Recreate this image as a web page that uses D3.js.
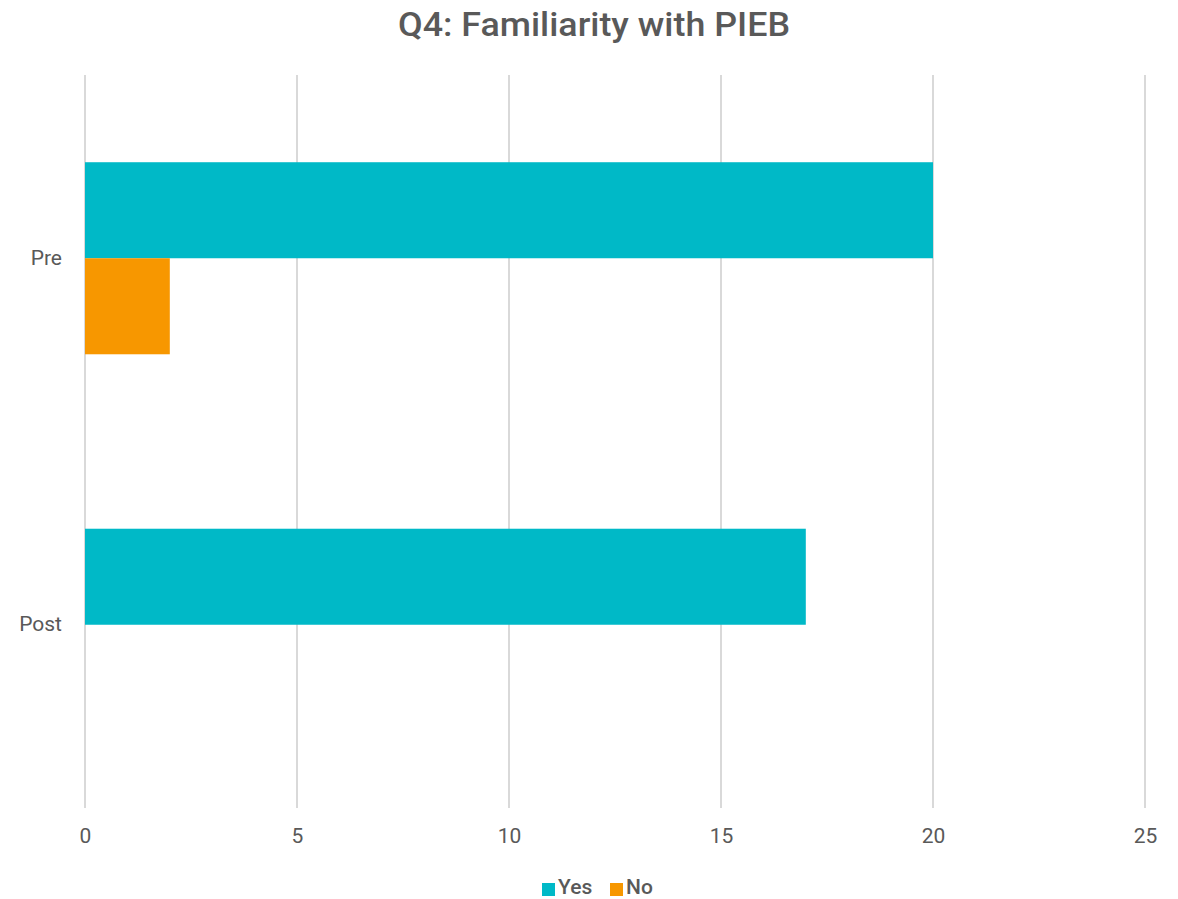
<!DOCTYPE html>
<html><head><meta charset="utf-8">
<script src="https://cdn.jsdelivr.net/npm/d3@7"></script>
<style>body{margin:0;background:#fff}svg{display:block}</style>
</head><body>
<script>
const categories = ["Pre", "Post"];
const seriesNames = ["Yes", "No"];
const yesValues = [20, 17];
const noValues = [2, 0];
const xTicks = [0, 5, 10, 15, 20, 25];
const colors = ["#00B9C7", "#F79700"];

const W = 1178, H = 899;
const svg = d3.select("body").append("svg").attr("width", W).attr("height", H);
const font = "Roboto, 'Liberation Sans', sans-serif";
const tc = "#595959";

const x = d3.scaleLinear().domain([0, 25]).range([85, 1145]);
const y0 = d3.scaleBand().domain(categories).range([75, 808]).paddingInner(0.476).paddingOuter(0.238);
const y1 = d3.scaleBand().domain(seriesNames).range([0, y0.bandwidth()]);

const title = svg.append("text").attr("x", 594).attr("y", 36).attr("text-anchor", "middle")
  .attr("font-family", font).attr("font-weight", 500).attr("font-size", 33).attr("fill", tc)
  .attr("textLength", 392).attr("lengthAdjust", "spacingAndGlyphs")
  .text("Q4: Familiarity with PIEB");

svg.append("g").selectAll("line").data(xTicks).join("line")
  .attr("x1", d => x(d)).attr("x2", d => x(d)).attr("y1", 75).attr("y2", 808)
  .attr("stroke", "#D9D9D9").attr("stroke-width", 2);

const xAxis = svg.append("g").attr("transform", "translate(0,808)")
  .call(d3.axisBottom(x).tickValues(xTicks).tickSize(0).tickPadding(20));
xAxis.select(".domain").remove();
xAxis.selectAll("text").attr("font-family", font).attr("font-size", 21).attr("fill", tc);

const yAxis = svg.append("g").attr("transform", "translate(85,0)")
  .call(d3.axisLeft(y0).tickSize(0).tickPadding(23));
yAxis.select(".domain").remove();
yAxis.selectAll("text").attr("font-family", font).attr("font-size", 21).attr("fill", tc).attr("dy", "0.3em");

const rows = categories.map((c, i) => ({cat: c, vals: [yesValues[i], noValues[i]]}));
svg.append("g").selectAll("g").data(rows).join("g")
  .attr("transform", d => `translate(0,${y0(d.cat)})`)
  .selectAll("rect").data(d => d.vals.map((v, j) => ({s: seriesNames[j], v, j})))
  .join("rect")
  .attr("x", x(0)).attr("y", d => y1(d.s)).attr("height", y1.bandwidth())
  .attr("width", d => x(d.v) - x(0)).attr("fill", d => colors[d.j]);

const legend = svg.append("g").attr("transform", "translate(542,887)");
const items = [{n: "Yes", c: colors[0], x: 0}, {n: "No", c: colors[1], x: 68}];
items.forEach(it => {
  legend.append("rect").attr("x", it.x).attr("y", -4).attr("width", 13).attr("height", 13).attr("fill", it.c);
  legend.append("text").attr("x", it.x + 16).attr("y", 0).attr("dy", "0.35em")
    .attr("font-family", font).attr("font-weight", 500).attr("font-size", 21).attr("fill", tc).text(it.n);
});
</script>
</body></html>
